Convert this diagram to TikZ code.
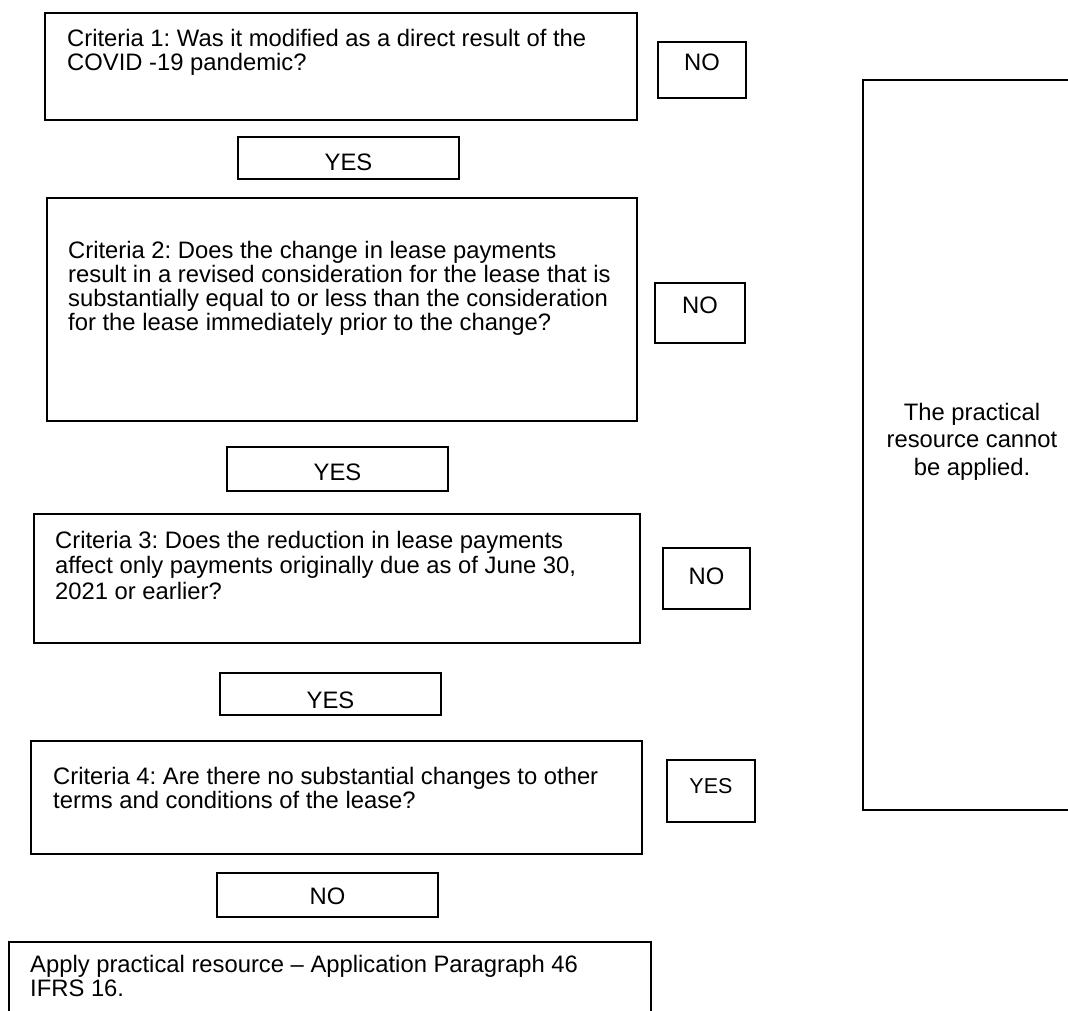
\documentclass[tikz,border=0pt]{standalone}
\usepackage{fontspec}
\setmainfont{Liberation Sans}
\frenchspacing
\begin{document}
\begin{tikzpicture}[x=1pt,y=-1pt,
  box/.style={draw=black, line width=1.6pt, inner sep=0pt, outer sep=0pt, anchor=north west, rectangle},
  lbl/.style={inner sep=0pt, anchor=base west, font=\fontsize{23.8}{24}\selectfont},
  lblwide/.style={inner sep=0pt, anchor=base west, font=\fontsize{23.8}{25.5}\selectfont},
  ctr/.style={inner sep=0pt, anchor=base, font=\fontsize{23.8}{27.5}\selectfont},
  ctrsmall/.style={inner sep=0pt, anchor=base, font=\fontsize{21.5}{25}\selectfont}]
\useasboundingbox (0,0) rectangle (1068,1010);
\clip (0,0) rectangle (1068,1010);
% criteria 1
\node[box, minimum width=592pt, minimum height=107pt] (c1) at (45,13) {};
\node[lbl] (c1t) at (67,46.7) {\parbox[t]{700pt}{Criteria 1: Was it modified as a direct result of the\\COVID -19 pandemic?}};
\node[box, minimum width=88pt, minimum height=56pt] (no1) at (658,42) {};
\node[ctr] (no1t) at (702,70) {NO};
\node[box, minimum width=221pt, minimum height=42pt] (yes1) at (238,137) {};
\node[ctr] (yes1t) at (348.5,170.5) {YES};
% criteria 2
\node[box, minimum width=590pt, minimum height=223pt] (c2) at (47,198) {};
\node[lbl] (c2t) at (68,258.5) {\parbox[t]{700pt}{Criteria 2: Does the change in lease payments\\result in a revised consideration for the lease that is\\substantially equal to or less than the consideration\\for the lease immediately prior to the change?}};
\node[box, minimum width=90pt, minimum height=60pt] (no2) at (655,283) {};
\node[ctr] (no2t) at (700,313.5) {NO};
\node[box, minimum width=221pt, minimum height=44pt] (yes2) at (227,447) {};
\node[ctr] (yes2t) at (337.5,480.5) {YES};
% criteria 3
\node[box, minimum width=606pt, minimum height=129pt] (c3) at (34,514) {};
\node[lblwide] (c3t) at (55,548.2) {\parbox[t]{700pt}{Criteria 3: Does the reduction in lease payments\\affect only payments originally due as of June 30,\\2021 or earlier?}};
\node[box, minimum width=87pt, minimum height=61pt] (no3) at (663,548) {};
\node[ctr] (no3t) at (706.5,584.5) {NO};
\node[box, minimum width=221pt, minimum height=42pt] (yes3) at (220,673) {};
\node[ctr] (yes3t) at (330.5,708.5) {YES};
% criteria 4
\node[box, minimum width=611pt, minimum height=113pt] (c4) at (31,741) {};
\node[lbl] (c4t) at (53,784.5) {\parbox[t]{700pt}{Criteria 4: Are there no substantial changes to other\\terms and conditions of the lease?}};
\node[box, minimum width=88pt, minimum height=62pt] (yes4) at (667,760) {};
\node[ctrsmall] (yes4t) at (711,793) {YES};
\node[box, minimum width=221pt, minimum height=44pt] (no4) at (217,873) {};
\node[ctr] (no4t) at (327.5,904) {NO};
% result
\node[box, minimum width=642pt, minimum height=120pt] (res) at (9,942) {};
\node[lbl] (rest) at (30,972.5) {\parbox[t]{700pt}{Apply practical resource -- Application Paragraph 46\\IFRS 16.}};
% right box
\node[box, minimum width=218pt, minimum height=730pt] (rb) at (863,80) {};
\node[ctr] (rbt) at (972,420) {\parbox[t]{220pt}{\centering The practical\\resource cannot\\be applied.}};
\end{tikzpicture}
\end{document}
